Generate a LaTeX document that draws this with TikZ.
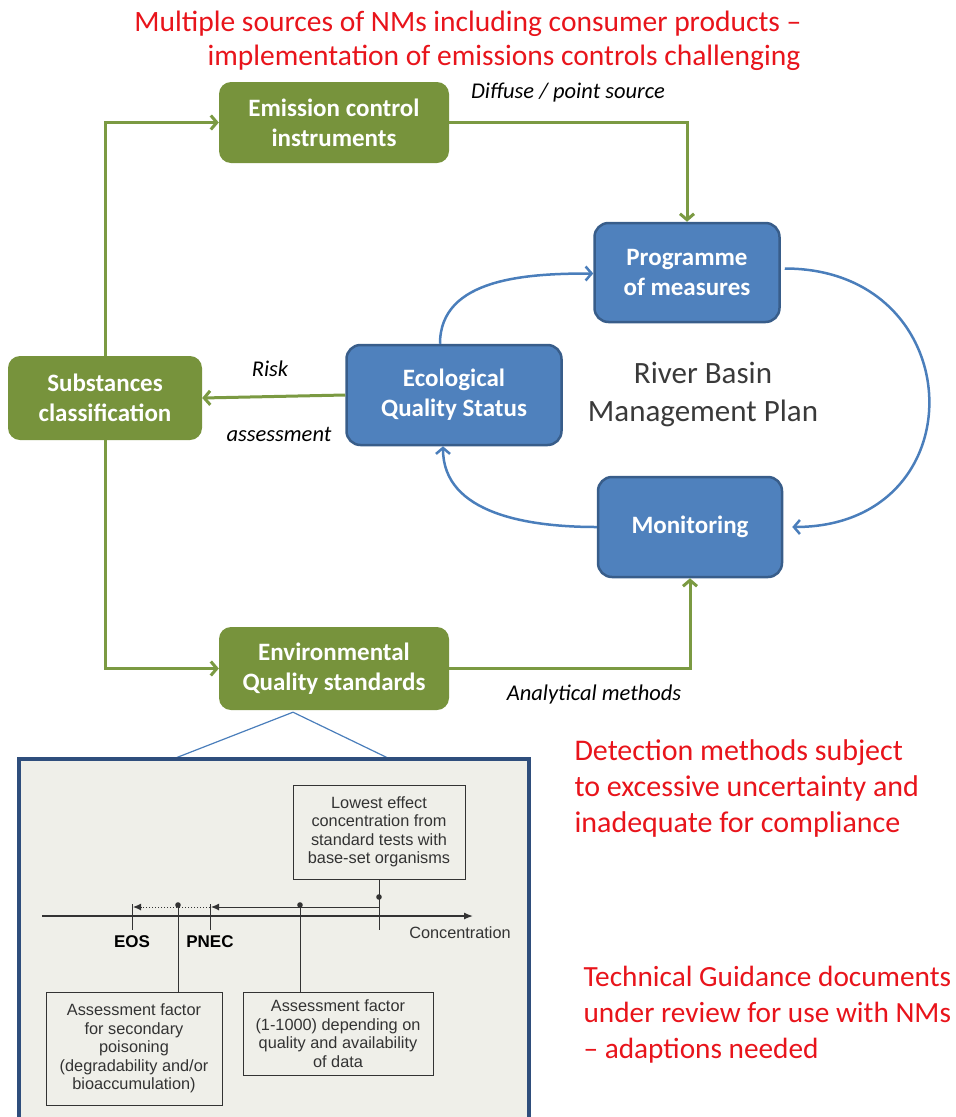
\documentclass[tikz,border=0pt]{standalone}
\usepackage{fontspec}
\setmainfont{Carlito}
\newfontfamily\plotfont{Liberation Sans}
\usetikzlibrary{arrows.meta}
\definecolor{boxgreen}{HTML}{77933C}
\definecolor{linegreen}{HTML}{7B9A42}
\definecolor{boxblue}{HTML}{4F81BD}
\definecolor{edgeblue}{HTML}{385D8A}
\definecolor{arcblue}{HTML}{4A7EBB}
\definecolor{noteRed}{HTML}{E8141B}
\definecolor{insetframe}{HTML}{2F4E7C}
\definecolor{insetfill}{HTML}{EFEFE9}
\definecolor{plotgray}{HTML}{333333}
\definecolor{plangray}{HTML}{3A3A3A}

\begin{document}
\begin{tikzpicture}[x=1pt,y=-1pt,
    gbox/.style={fill=boxgreen, rounded corners=12pt, text=white, align=center, inner sep=0pt,
      font=\fontsize{25}{30}\selectfont\bfseries},
    bbox/.style={fill=boxblue, draw=edgeblue, line width=2.5pt, rounded corners=14pt, text=white,
      align=center, inner sep=0pt, font=\fontsize{25}{30}\selectfont\bfseries},
    garrow/.style={draw=linegreen, line width=3pt, -{Straight Barb[length=6pt,width=14pt]}},
    barrow/.style={draw=arcblue, line width=2.5pt, -{Straight Barb[length=6pt,width=14pt]}},
    flowlabel/.style={font=\fontsize{22.5}{26}\selectfont\itshape, text=black},
    rednote/.style={text=noteRed, align=left, font=\fontsize{30}{36}\selectfont},
    plotbox/.style={draw=plotgray, line width=1pt, fill=insetfill, align=center, text=plotgray,
      font=\plotfont\fontsize{16.3}{18.5}\selectfont, inner sep=0pt},
    plotline/.style={draw=plotgray, line width=1pt}]
  \useasboundingbox (0,0) rectangle (956,1117);
  \clip (0,0) rectangle (956,1117);

  % headline
  \node[rednote, font=\fontsize{29.5}{36}\selectfont] (head1) at (468,24) {Multiple sources of NMs including consumer products --};
  \node[rednote, font=\fontsize{29.5}{36}\selectfont] (head2) at (504,58) {implementation of emissions controls challenging};

  % green boxes
  \node[gbox, minimum width=230pt, minimum height=81pt] (emis) at (334,122.5) {Emission control\\instruments};
  \node[gbox, minimum width=194pt, minimum height=84pt] (subst) at (105,398) {Substances\\classification};
  \node[gbox, minimum width=230pt, minimum height=83pt] (eqs) at (334,668.5) {Environmental\\Quality standards};

  % blue boxes
  \node[bbox, minimum width=185pt, minimum height=99pt] (prog) at (687,272.5) {Programme\\of measures};
  \node[bbox, minimum width=215pt, minimum height=100pt] (eco) at (454,395) {Ecological\\Quality Status};
  \node[bbox, minimum width=184pt, minimum height=100pt] (moni) at (690,527) {Monitoring};

  \node[align=center, text=plangray, font=\fontsize{31}{38}\selectfont] (rbmp) at (703,394) {River Basin\\Management Plan};

  % green connectors
  \draw[garrow] (subst.north) |- (emis.west);
  \draw[garrow] (emis.east) -| (prog.north);
  \draw[garrow] (eco.west) -- (subst.east);
  \draw[garrow] (subst.south) |- (eqs.west);
  \draw[garrow] (eqs.east) -| (moni.south);

  \node[flowlabel] (diffuse) at (568,93) {Diffuse / point source};
  \node[flowlabel] (risk) at (270,369) {Risk};
  \node[flowlabel] (assess) at (279,434) {assessment};
  \node[flowlabel] (analyt) at (594,694) {Analytical methods};

  % management cycle
  \draw[barrow] ([xshift=-14pt]eco.north) to[out=90, in=180] ([yshift=-1pt]prog.west);
  \draw[barrow] ([xshift=4pt,yshift=4pt]prog.east) to[out=0, in=0, looseness=1.85] ([xshift=9pt]moni.east);
  \draw[barrow] (moni.west) to[out=180, in=-90] ([xshift=-11pt]eco.south);

  % notes on the right
  \node[rednote, anchor=west] (detect) at (571,788) {Detection methods subject\\to excessive uncertainty and\\inadequate for compliance};
  \node[rednote, anchor=west, font=\fontsize{29.3}{36}\selectfont] (guide) at (580,1015) {Technical Guidance documents\\under review for use with NMs\\-- adaptions needed};

  % zoomed inset
  \coordinate (apex) at ([xshift=-41pt,yshift=-2pt]eqs.south);
  \coordinate (topL) at (173,759);
  \coordinate (topR) at (390,759);
  \draw[arcblue, line width=1.2pt] (topL) -- (apex) -- (topR);
  \draw[draw=insetframe, fill=insetfill, line width=3.5pt] (19,759) rectangle (529,1140);

  \node[plotbox, minimum width=172pt, minimum height=94pt] (lowest) at (379,832) {Lowest effect\\concentration from\\standard tests with\\base-set organisms};
  \node[plotbox, minimum width=176pt, minimum height=113pt] (secpois) at (134,1048.5) {Assessment factor\\for secondary\\poisoning\\(degradability and/or\\bioaccumulation)};
  \node[plotbox, minimum width=190pt, minimum height=83pt] (afactor) at (338,1033.5) {Assessment factor\\(1-1000) depending on\\quality and availability\\of data};

  \coordinate (axisL) at (42,916);
  \coordinate (axisR) at (473,916);
  \draw[plotline, line width=1.3pt, -{Latex[length=9pt,width=7pt]}] (axisL) -- (axisR);
  \node[text=plotgray, font=\plotfont\fontsize{16.3}{18}\selectfont] (conc) at (460,933) {Concentration};

  \coordinate (eosT) at (132,904);
  \coordinate (eosB) at (132,930);
  \coordinate (pnecT) at (210,904);
  \coordinate (pnecB) at (210,930);
  \draw[plotline] (eosT) -- (eosB);
  \draw[plotline] (pnecT) -- (pnecB);
  \coordinate (lowtick) at (lowest.south |- 0,930);
  \draw[plotline] (lowest.south) -- (lowtick);
  \node[text=black, font=\plotfont\fontsize{17}{20}\selectfont\bfseries] (eos) at (132,942) {EOS};
  \node[text=black, font=\plotfont\fontsize{17}{20}\selectfont\bfseries] (pnec) at (210,942) {PNEC};

  \coordinate (lowdot) at (lowest.south |- 0,897);
  \coordinate (lowend) at (lowest.south |- 0,907);
  \coordinate (afdot) at (300,905);
  \coordinate (spdot) at (178,905);
  \draw[plotline, -{Latex[length=8pt,width=7pt]}] (lowend) -- (211,907);
  \draw[plotline, dotted, -{Latex[length=8pt,width=7pt]}] (pnecT |- 0,907) -- (133,907);
  \draw[plotline] (afdot) -- (afdot |- afactor.north);
  \draw[plotline] (spdot) -- (spdot |- secpois.north);
  \foreach \d in {lowdot, afdot, spdot}
    \fill[plotgray] (\d) circle (2.8pt);
\end{tikzpicture}
\end{document}
